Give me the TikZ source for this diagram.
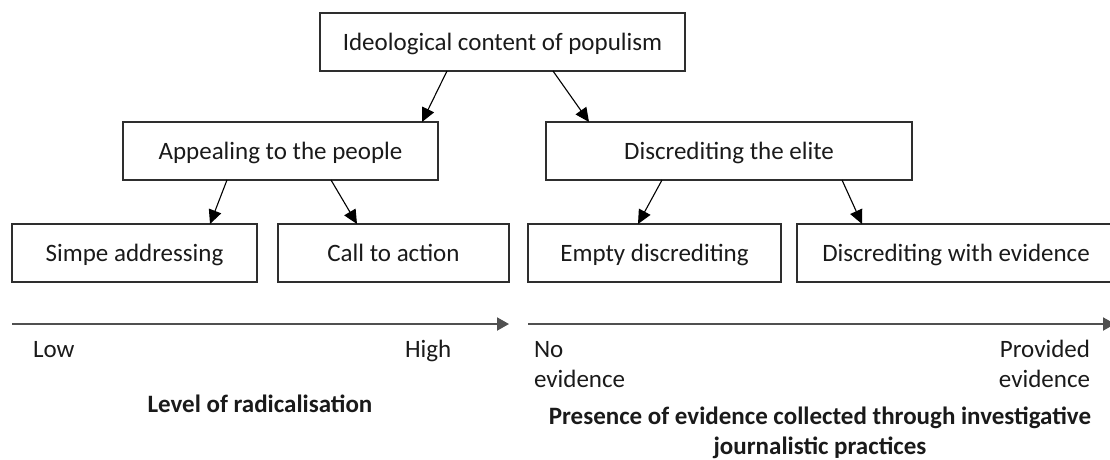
\documentclass[tikz,border=0pt]{standalone}
\usepackage{fontspec}
\setmainfont{Carlito}
\usetikzlibrary{arrows.meta}
\definecolor{txt}{HTML}{1A1A1A}
\definecolor{boxline}{HTML}{2E2E2E}
\definecolor{axisline}{HTML}{505050}
\tikzset{
  box/.style={draw=boxline, line width=1.4pt, rectangle, inner sep=0pt, outer sep=0pt,
    minimum height=58pt, text height=16pt, text depth=0pt, text=txt},
  conn/.style={draw=black, line width=1.1pt, -{Triangle[length=14pt,width=13pt]}},
  axis/.style={draw=axisline, line width=2pt, -{Triangle[length=12pt,width=13pt]}},
  lbl/.style={text=txt, inner sep=0pt, outer sep=0pt},
}
\begin{document}
\begin{tikzpicture}[x=1pt, y=-1pt, font=\fontsize{25}{30}\selectfont]
\useasboundingbox (0,0) rectangle (1110,459);
% boxes
\node[box, minimum width=365pt] (top) at (502.5,42) {Ideological content of populism};
\node[box, minimum width=315pt] (app) at (280.5,151) {Appealing to the people};
\node[box, minimum width=366pt] (disc) at (729,151) {Discrediting the elite};
\node[box, minimum width=245pt] (simpe) at (134.5,253) {Simpe addressing};
\node[box, minimum width=231pt] (call) at (393.5,253) {Call to action};
\node[box, minimum width=253pt] (empty) at (654.5,253) {Empty discrediting};
\node[box, minimum width=318pt] (withev) at (956,253) {Discrediting with evidence};
% connectors
\draw[conn] ([xshift=-55.5pt]top.south) -- ([xshift=141.5pt]app.north);
\draw[conn] ([xshift=50.5pt]top.south) -- ([xshift=-140pt]disc.north);
\draw[conn] ([xshift=-53.5pt]app.south) -- ([xshift=75.5pt]simpe.north);
\draw[conn] ([xshift=50.5pt]app.south) -- ([xshift=-36.5pt]call.north);
\draw[conn] ([xshift=-67pt]disc.south) -- ([xshift=-16.5pt]empty.north);
\draw[conn] ([xshift=113pt]disc.south) -- ([xshift=-94pt]withev.north);
% axes
\coordinate (l0) at (12,324);
\coordinate (l1) at (509,324);
\coordinate (r0) at (528,324);
\coordinate (r1) at (1115,324);
\draw[axis] (l0) -- (l1);
\draw[axis] (r0) -- (r1);
% labels
\node[lbl, anchor=base west] (low) at (33,357) {Low};
\node[lbl, anchor=base west] (high) at (405,357) {High};
\node[lbl, anchor=base west] (noev1) at (534,357) {No};
\node[lbl, anchor=base west] (noev2) at (534,387) {evidence};
\node[lbl, anchor=base east] (prov1) at (1090,357) {Provided};
\node[lbl, anchor=base east] (prov2) at (1090,387) {evidence};
\node[lbl, anchor=base, font=\fontsize{25}{30}\selectfont\bfseries] (level) at (260,412) {Level of radicalisation};
\node[lbl, anchor=base, font=\fontsize{25}{30}\selectfont\bfseries] (pres1) at (820,424) {Presence of evidence collected through investigative};
\node[lbl, anchor=base, font=\fontsize{25}{30}\selectfont\bfseries] (pres2) at (820,454) {journalistic practices};
\end{tikzpicture}
\end{document}
